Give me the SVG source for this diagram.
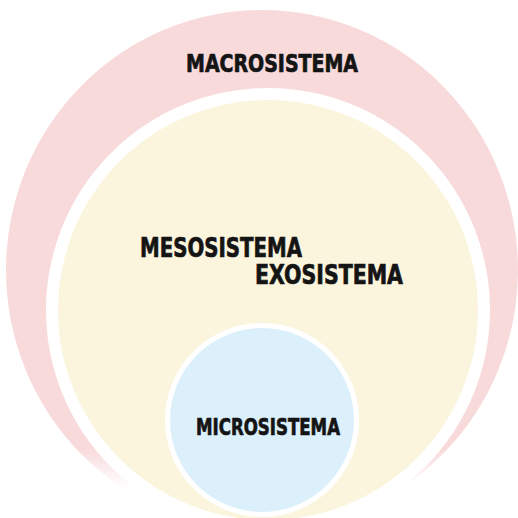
<svg xmlns="http://www.w3.org/2000/svg" width="518" height="518" viewBox="0 0 518 518">
  <defs>
    <linearGradient id="pinkFade" gradientUnits="userSpaceOnUse" x1="0" y1="400" x2="0" y2="488">
      <stop offset="0" stop-color="#f9dadb"/>
      <stop offset="0.55" stop-color="#f9dadb"/>
      <stop offset="1" stop-color="#ffffff"/>
    </linearGradient>
    <clipPath id="topPart">
      <rect x="0" y="0" width="518" height="488"/>
    </clipPath>
  </defs>
  <style>
    .lbl { font-family: "DejaVu Sans Condensed", "DejaVu Sans", "Liberation Sans", sans-serif; font-weight: bold; font-stretch: condensed; fill: #141414; stroke: #141414; stroke-width: 0.7; text-anchor: start; }
  </style>
  <rect x="0" y="0" width="518" height="518" fill="#ffffff"/>
  <g id="macrosistema">
    <ellipse cx="262" cy="270" rx="256" ry="260" fill="url(#pinkFade)" clip-path="url(#topPart)"/>
    <text class="lbl" x="186" y="72" font-size="24" textLength="172" lengthAdjust="spacingAndGlyphs">MACROSISTEMA</text>
  </g>
  <g id="exosistema">
    <circle cx="268" cy="310" r="216" fill="#fcf5dd" stroke="#ffffff" stroke-width="12"/>
    <text class="lbl" x="255" y="284" font-size="27" textLength="148" lengthAdjust="spacingAndGlyphs">EXOSISTEMA</text>
  </g>
  <g id="mesosistema">
    <text class="lbl" x="140" y="257" font-size="27" textLength="162" lengthAdjust="spacingAndGlyphs">MESOSISTEMA</text>
  </g>
  <g id="microsistema">
    <circle cx="262" cy="420" r="94.5" fill="#dcf0fb" stroke="#ffffff" stroke-width="5"/>
    <text class="lbl" x="196" y="435" font-size="23" textLength="144" lengthAdjust="spacingAndGlyphs">MICROSISTEMA</text>
  </g>
</svg>
